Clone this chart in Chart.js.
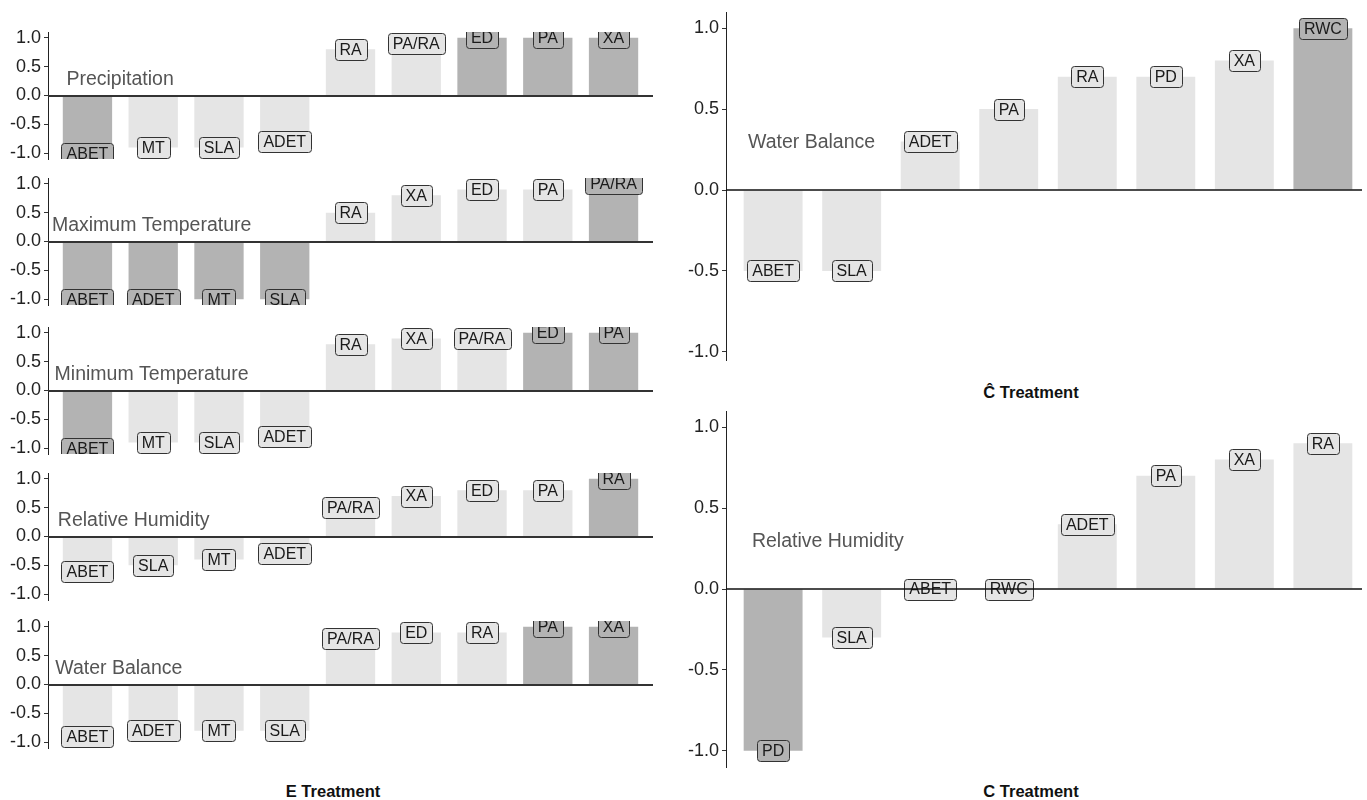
<!DOCTYPE html>
<html>
<head>
<meta charset="utf-8">
<title>Trait correlations by treatment</title>
<script src="https://cdn.jsdelivr.net/npm/chart.js@4/dist/chart.umd.min.js"></script>
<style>
  html, body { margin: 0; padding: 0; background: #fff; }
  body { position: relative; width: 1367px; height: 800px; overflow: hidden;
         font-family: "Liberation Sans", Arial, sans-serif; }
  .panel { position: absolute; overflow: hidden; }
  .panel canvas { display: block; }
  .axis-title { position: absolute; transform: translate(-50%, -50%); white-space: nowrap;
                font-weight: bold; font-size: 16.5px; color: #111; }
</style>
</head>
<body>
<div class="axis-title" style="left:333px; top:791px;">E Treatment</div>
<div class="axis-title" style="left:1031px; top:392px;">Ĉ Treatment</div>
<div class="axis-title" style="left:1031px; top:791px;">C Treatment</div>

<script>
// ---- E treatment: one panel per climate variable ----
const precipTraits = ['ABET', 'MT', 'SLA', 'ADET', 'RA', 'PA/RA', 'ED', 'PA', 'XA'];
const precipCorr   = [-1.0, -0.9, -0.9, -0.8, 0.8, 0.9, 1.0, 1.0, 1.0];

const maxTempTraits = ['ABET', 'ADET', 'MT', 'SLA', 'RA', 'XA', 'ED', 'PA', 'PA/RA'];
const maxTempCorr   = [-1.0, -1.0, -1.0, -1.0, 0.5, 0.8, 0.9, 0.9, 1.0];

const minTempTraits = ['ABET', 'MT', 'SLA', 'ADET', 'RA', 'XA', 'PA/RA', 'ED', 'PA'];
const minTempCorr   = [-1.0, -0.9, -0.9, -0.8, 0.8, 0.9, 0.9, 1.0, 1.0];

const humidityETraits = ['ABET', 'SLA', 'MT', 'ADET', 'PA/RA', 'XA', 'ED', 'PA', 'RA'];
const humidityECorr   = [-0.6, -0.5, -0.4, -0.3, 0.5, 0.7, 0.8, 0.8, 1.0];

const waterETraits = ['ABET', 'ADET', 'MT', 'SLA', 'PA/RA', 'ED', 'RA', 'PA', 'XA'];
const waterECorr   = [-0.9, -0.8, -0.8, -0.8, 0.8, 0.9, 0.9, 1.0, 1.0];

// ---- Ĉ treatment ----
const waterChatTraits = ['ABET', 'SLA', 'ADET', 'PA', 'RA', 'PD', 'XA', 'RWC'];
const waterChatCorr   = [-0.5, -0.5, 0.3, 0.5, 0.7, 0.7, 0.8, 1.0];

// ---- C treatment ----
const humidityCTraits = ['PD', 'SLA', 'ABET', 'RWC', 'ADET', 'PA', 'XA', 'RA'];
const humidityCCorr   = [-1.0, -0.3, 0.0, 0.0, 0.4, 0.7, 0.8, 0.9];

const yTickValues = [-1.0, -0.5, 0.0, 0.5, 1.0];

// ---- styling ----
const FONT = '"Liberation Sans", Arial, sans-serif';
const BAR_LIGHT = '#e5e5e5';
const BAR_DARK = '#b3b3b3';
const fillFor = v => (Math.abs(v) >= 1 ? BAR_DARK : BAR_LIGHT);
const PAD = 12; // room above/below the plot area for the end tick labels

Chart.defaults.font.family = FONT;

// Trait labels, the variable name and the zero reference line, drawn over the bars
const panelDecor = {
  id: 'panelDecor',
  afterDatasetsDraw(chart, args, opts) {
    const { ctx, chartArea: a, scales: { x, y } } = chart;
    const ds = chart.data.datasets[0];
    const meta = chart.getDatasetMeta(0);
    ctx.save();
    ctx.beginPath();
    ctx.rect(a.left, a.top, a.right - a.left, a.bottom - a.top);
    ctx.clip();

    // variable name
    ctx.font = '19.5px ' + FONT;
    ctx.fillStyle = '#555';
    ctx.textAlign = 'left';
    ctx.textBaseline = 'middle';
    ctx.fillText(opts.note, x.getPixelForValue(opts.noteX), y.getPixelForValue(opts.noteY));

    // boxed trait labels at each bar's value
    ctx.font = '16px ' + FONT;
    ctx.textAlign = 'center';
    opts.labels.forEach((t, i) => {
      const v = ds.data[i].y;
      const cx = meta.data[i].x;
      const cy = y.getPixelForValue(v);
      const w = Math.round(ctx.measureText(t).width + 10);
      const h = 21;
      const bx = Math.round(cx - w / 2) + 0.5;
      const by = Math.round(cy - h / 2) + 0.5;
      ctx.beginPath();
      ctx.roundRect(bx, by, w, h, 3);
      ctx.fillStyle = fillFor(v);
      ctx.fill();
      ctx.lineWidth = 1;
      ctx.strokeStyle = '#333';
      ctx.stroke();
      ctx.fillStyle = '#1a1a1a';
      ctx.fillText(t, cx, cy + 1);
    });

    // zero line
    const zy = Math.round(y.getPixelForValue(0));
    ctx.beginPath();
    ctx.moveTo(a.left, zy);
    ctx.lineTo(a.right, zy);
    ctx.lineWidth = opts.zeroWidth;
    ctx.strokeStyle = opts.zeroColor;
    ctx.stroke();
    ctx.restore();
  }
};

function makePanel(cfg) {
  const w = cfg.width;
  const h = cfg.height + 2 * PAD;
  const wrap = document.createElement('div');
  wrap.className = 'panel';
  wrap.style.left = cfg.left + 'px';
  wrap.style.top = (cfg.top - PAD) + 'px';
  wrap.style.width = (cfg.visibleWidth || w) + 'px';
  wrap.style.height = h + 'px';
  const canvas = document.createElement('canvas');
  canvas.width = w;
  canvas.height = h;
  canvas.style.width = w + 'px';
  canvas.style.height = h + 'px';
  wrap.appendChild(canvas);
  document.body.appendChild(wrap);

  const n = cfg.traits.length;
  new Chart(canvas, {
    type: 'bar',
    data: {
      datasets: [{
        data: cfg.values.map((v, i) => ({ x: i, y: v })),
        backgroundColor: cfg.values.map(fillFor),
        borderWidth: 0,
        barPercentage: 0.75,
        categoryPercentage: 1.0
      }]
    },
    options: {
      responsive: false,
      animation: false,
      devicePixelRatio: 1,
      layout: { padding: { top: PAD, bottom: PAD, left: 0, right: 0 } },
      plugins: {
        legend: { display: false },
        tooltip: { enabled: false },
        panelDecor: {
          labels: cfg.traits,
          note: cfg.note,
          noteX: cfg.noteX,
          noteY: cfg.noteY,
          zeroColor: cfg.zeroColor,
          zeroWidth: cfg.zeroWidth
        }
      },
      scales: {
        x: {
          type: 'linear',
          min: -0.6,
          max: n - 1 + 0.6,
          offset: false,
          display: false,
          afterBuildTicks(scale) {
            scale.ticks = cfg.traits.map((t, i) => ({ value: i }));
          }
        },
        y: {
          min: cfg.yMin,
          max: cfg.yMax,
          afterBuildTicks(scale) {
            scale.ticks = yTickValues.map(v => ({ value: v }));
          },
          afterFit(scale) {
            scale.width = cfg.axisWidth;
            scale.paddingTop = 0;
            scale.paddingBottom = 0;
          },
          ticks: {
            autoSkip: false,
            padding: 3,
            color: '#222',
            font: { size: 18, family: FONT },
            callback: v => Number(v).toFixed(1)
          },
          grid: {
            drawOnChartArea: false,
            drawTicks: true,
            tickLength: 4,
            color: '#333',
            lineWidth: 1
          },
          border: { display: true, color: '#222', width: 1 }
        }
      }
    },
    plugins: [panelDecor]
  });
}

// left column (E treatment), stacked panels
const leftCommon = {
  left: 0, width: 653, height: 127, axisWidth: 48,
  yMin: -1.1, yMax: 1.1, noteY: 0.28,
  zeroColor: '#333', zeroWidth: 1.8
};
makePanel(Object.assign({}, leftCommon, {
  top: 32, traits: precipTraits, values: precipCorr, note: 'Precipitation', noteX: -0.32
}));
makePanel(Object.assign({}, leftCommon, {
  top: 178, traits: maxTempTraits, values: maxTempCorr, note: 'Maximum Temperature', noteX: -0.54
}));
makePanel(Object.assign({}, leftCommon, {
  top: 327, traits: minTempTraits, values: minTempCorr, note: 'Minimum Temperature', noteX: -0.5
}));
makePanel(Object.assign({}, leftCommon, {
  top: 473, traits: humidityETraits, values: humidityECorr, note: 'Relative Humidity', noteX: -0.45
}));
makePanel(Object.assign({}, leftCommon, {
  top: 621, traits: waterETraits, values: waterECorr, note: 'Water Balance', noteX: -0.49
}));

// right column
const rightCommon = {
  left: 678, width: 692, visibleWidth: 684, axisWidth: 48, noteY: 0.29,
  zeroColor: '#111', zeroWidth: 1.6
};
makePanel(Object.assign({}, rightCommon, {
  top: 12, height: 348, yMin: -1.05, yMax: 1.1,
  traits: waterChatTraits, values: waterChatCorr, note: 'Water Balance', noteX: -0.32
}));
makePanel(Object.assign({}, rightCommon, {
  top: 411, height: 356, yMin: -1.1, yMax: 1.1,
  traits: humidityCTraits, values: humidityCCorr, note: 'Relative Humidity', noteX: -0.27
}));
</script>
</body>
</html>
